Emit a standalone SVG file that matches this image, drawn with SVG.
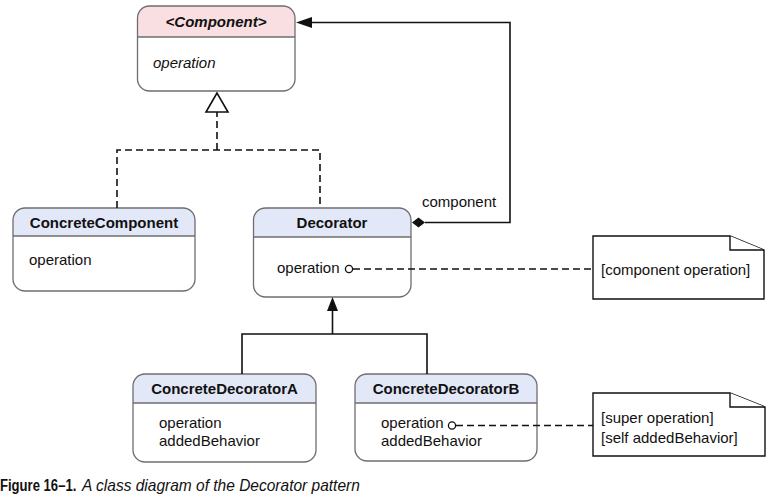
<svg xmlns="http://www.w3.org/2000/svg" width="776" height="504" viewBox="0 0 776 504">
<defs>
<style>
.hdrB{fill:#e3e8f8}
.hdrP{fill:#f9dfe1}
.frame{fill:none;stroke:#6e6e6e;stroke-width:1.3}
.div{stroke:#6e6e6e;stroke-width:1.3}
.ttl{font-family:"Liberation Sans",Arial,sans-serif;font-size:15px;font-weight:bold;fill:#111;text-anchor:middle}
.txt{font-family:"Liberation Sans",Arial,sans-serif;font-size:15px;fill:#111}
.ln{fill:none;stroke:#111;stroke-width:1.6}
.dash{fill:none;stroke:#111;stroke-width:1.6;stroke-dasharray:7 4}
.note{fill:#fff;stroke:#111;stroke-width:1.4}
.lolli{fill:#fff;stroke:#111;stroke-width:1.3}
.cap{font-family:"Liberation Sans",Arial,sans-serif;fill:#111}
</style>
<clipPath id="cpComp"><rect x="137.5" y="6" width="157.5" height="85" rx="12"/></clipPath>
<clipPath id="cpCC"><rect x="13" y="208" width="182" height="83" rx="12"/></clipPath>
<clipPath id="cpDec"><rect x="253.5" y="208" width="157.5" height="89" rx="12"/></clipPath>
<clipPath id="cpA"><rect x="133" y="374" width="183" height="88" rx="12"/></clipPath>
<clipPath id="cpB"><rect x="355" y="374" width="182" height="87" rx="12"/></clipPath>
</defs>

<g id="component">
  <rect x="137.5" y="6" width="157.5" height="85" rx="12" fill="#fff"/>
  <g clip-path="url(#cpComp)">
    <rect x="137.5" y="6" width="157.5" height="31" class="hdrP"/>
  </g>
  <rect x="137.5" y="6" width="157.5" height="85" rx="12" class="frame"/>
  <line class="div" x1="137.5" y1="37" x2="295" y2="37"/>
  <text class="ttl" x="216" y="27" font-style="italic">&lt;Component&gt;</text>
  <text class="txt" x="153" y="68" font-style="italic">operation</text>
</g>

<g id="concreteComponent">
  <rect x="13" y="208" width="182" height="83" rx="12" fill="#fff"/>
  <g clip-path="url(#cpCC)">
    <rect x="13" y="208" width="182" height="28" class="hdrB"/>
  </g>
  <rect x="13" y="208" width="182" height="83" rx="12" class="frame"/>
  <line class="div" x1="13" y1="236" x2="195" y2="236"/>
  <text class="ttl" x="104" y="228">ConcreteComponent</text>
  <text class="txt" x="29" y="265">operation</text>
</g>

<g id="decorator">
  <rect x="253.5" y="208" width="157.5" height="89" rx="12" fill="#fff"/>
  <g clip-path="url(#cpDec)">
    <rect x="253.5" y="208" width="157.5" height="29" class="hdrB"/>
  </g>
  <rect x="253.5" y="208" width="157.5" height="89" rx="12" class="frame"/>
  <line class="div" x1="253.5" y1="237" x2="411" y2="237"/>
  <text class="ttl" x="332" y="228">Decorator</text>
  <text class="txt" x="277" y="273">operation</text>
</g>

<g id="concreteDecoratorA">
  <rect x="133" y="374" width="183" height="88" rx="12" fill="#fff"/>
  <g clip-path="url(#cpA)">
    <rect x="133" y="374" width="183" height="29" class="hdrB"/>
  </g>
  <rect x="133" y="374" width="183" height="88" rx="12" class="frame"/>
  <line class="div" x1="133" y1="403" x2="316" y2="403"/>
  <text class="ttl" x="224.5" y="394">ConcreteDecoratorA</text>
  <text class="txt" x="159" y="428">operation</text>
  <text class="txt" x="159" y="446">addedBehavior</text>
</g>

<g id="concreteDecoratorB">
  <rect x="355" y="374" width="182" height="87" rx="12" fill="#fff"/>
  <g clip-path="url(#cpB)">
    <rect x="355" y="374" width="182" height="29" class="hdrB"/>
  </g>
  <rect x="355" y="374" width="182" height="87" rx="12" class="frame"/>
  <line class="div" x1="355" y1="403" x2="537" y2="403"/>
  <text class="ttl" x="446" y="394">ConcreteDecoratorB</text>
  <text class="txt" x="381" y="428">operation</text>
  <text class="txt" x="381" y="446">addedBehavior</text>
</g>

<g id="note1">
  <polygon class="note" points="593,236 730,236 764,250 764,299 593,299"/>
  <polyline class="note" fill="none" points="730,236 730,250 764,250"/>
  <text class="txt" x="601" y="275">[component operation]</text>
</g>

<g id="note2">
  <polygon class="note" points="593,393 730,393 765,407 765,456 593,456"/>
  <polyline class="note" fill="none" points="730,393 730,407 765,407"/>
  <text class="txt" x="601" y="423">[super operation]</text>
  <text class="txt" x="601" y="443">[self addedBehavior]</text>
</g>

<g id="connectors">
  <!-- realization from ConcreteComponent and Decorator to Component -->
  <polyline class="dash" points="117,208 117,150 320,150 320,208"/>
  <line class="dash" x1="217" y1="150" x2="217" y2="112"/>
  <polygon points="217,93 206,112 228,112" fill="#fff" stroke="#111" stroke-width="1.6"/>
  <!-- aggregation: component -->
  <polyline class="ln" points="425,222.5 510,222.5 510,22.5 310,22.5"/>
  <polygon points="296,22.5 312,17 312,28" fill="#111"/>
  <polygon points="412,222.5 418.5,217.5 425,222.5 418.5,227.5" fill="#111"/>
  <text class="txt" x="422" y="207">component</text>
  <!-- generalization from concrete decorators -->
  <polyline class="ln" points="242,374 242,334 427,334 427,374"/>
  <line class="ln" x1="332.5" y1="334" x2="332.5" y2="310"/>
  <polygon points="332.5,297 327,311 338,311" fill="#111"/>
  <!-- note links -->
  <line class="dash" x1="353" y1="269" x2="593" y2="269"/>
  <circle class="lolli" cx="349" cy="269" r="3.6"/>
  <line class="dash" x1="456" y1="425.5" x2="593" y2="425.5"/>
  <circle class="lolli" cx="452" cy="425.5" r="3.6"/>
</g>

<g id="caption">
  <text class="cap" transform="translate(0,491) scale(0.77,1)" x="0" y="0" font-size="17" font-weight="bold">Figure 16–1.</text>
  <text class="cap" transform="translate(82,491) scale(0.97,1)" x="0" y="0" font-size="16" font-style="italic">A class diagram of the Decorator pattern</text>
</g>
</svg>
